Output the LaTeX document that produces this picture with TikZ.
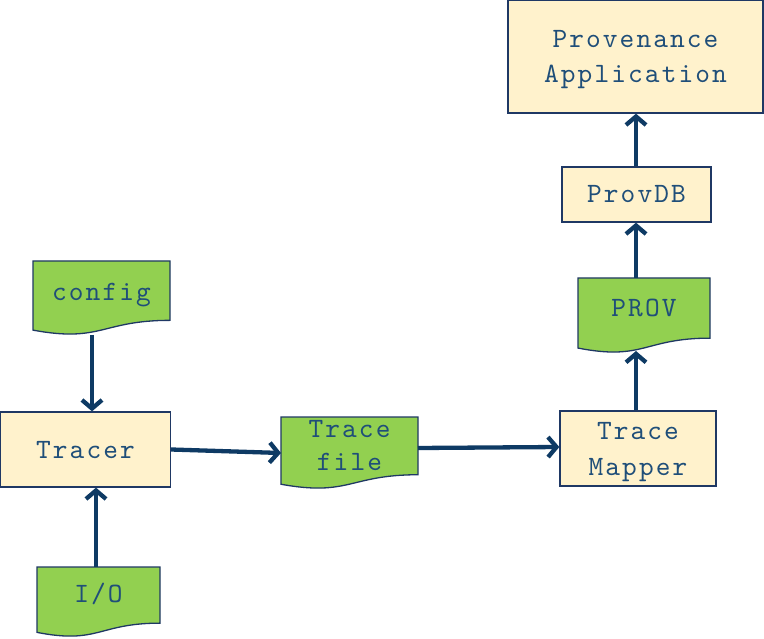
\documentclass[tikz,border=0pt]{standalone}
\usepackage{fontspec}
\setmonofont{lmmono10-regular.otf}[LetterSpace=7.5]
\usetikzlibrary{arrows.meta,calc}
\definecolor{cream}{HTML}{FFF2CC}
\definecolor{leaf}{HTML}{92D050}
\definecolor{edgec}{HTML}{1F3864}
\definecolor{ink}{HTML}{1F4E79}
\definecolor{arrowc}{HTML}{0E3A64}
\tikzset{
  lbl/.style={inner sep=0pt, text=ink, align=center, font=\fontsize{28}{34}\selectfont\ttfamily},
  oneline/.style={text height=17pt, text depth=0pt},
  procbox/.style={lbl, draw=edgec, line width=1.3pt, fill=cream},
  docframe/.style={inner sep=0pt, outer sep=0pt},
  docshape/.style={draw=edgec, line width=1.3pt, fill=leaf},
  arr/.style={draw=arrowc, line width=4.3pt, -{Straight Barb[length=8.5pt,width=20pt]}}
}
\newcommand\docpath[1]{%
  \path[docshape] let \p1=(#1.north west), \p2=(#1.south east) in
    (\p1) -- (\x2,\y1) -- (\x2,{\y1+0.802*(\y2-\y1)})
    .. controls ({0.5*(\x1+\x2)},{\y1+0.802*(\y2-\y1)}) and ({0.5*(\x1+\x2)},{\y1+1.107*(\y2-\y1)})
    .. (\x1,{\y1+0.934*(\y2-\y1)}) -- cycle;}
\begin{document}
\begin{tikzpicture}[x=1pt,y=-1pt]
\useasboundingbox (0,0) rectangle (764,639);
% process boxes
\node[procbox, text depth=0pt, minimum width=255pt, minimum height=113pt, font=\fontsize{28}{35}\selectfont\ttfamily] (app) at (635.5,56.5) {Provenance\\Application};
\node[procbox, oneline, minimum width=149pt, minimum height=55pt] (provdb) at (636.5,194.5) {ProvDB};
\node[procbox, text depth=0pt, minimum width=156pt, minimum height=75pt, font=\fontsize{28}{36}\selectfont\ttfamily] (mapper) at (638,448.5) {Trace\\Mapper};
\node[procbox, oneline, minimum width=170pt, minimum height=75pt] (tracer) at (85.5,449.5) {Tracer};
% documents
\node[docframe, minimum width=132pt, minimum height=75pt] (prov) at (644,315.5) {};
\docpath{prov}
\node[lbl, oneline] (provt) at (644,308.5) {PROV};
\node[docframe, minimum width=137pt, minimum height=74pt] (config) at (101.5,298) {};
\docpath{config}
\node[lbl, oneline] (configt) at (101.5,292) {config};
\node[docframe, minimum width=123pt, minimum height=70pt] (io) at (98.5,602) {};
\docpath{io}
\node[lbl, oneline] (iot) at (98.5,594) {I/O};
\node[docframe, minimum width=137pt, minimum height=72pt] (tracefile) at (349.5,453) {};
\docpath{tracefile}
\node[lbl, font=\fontsize{28}{33}\selectfont\ttfamily] (tracefilet) at (349.5,446) {Trace\\file};
% connectors
\draw[arr] ([xshift=-9.5pt]config.south) -- ([xshift=6.5pt]tracer.north);
\draw[arr] ([xshift=-2.5pt]io.north) -- ([xshift=10.5pt]tracer.south);
\draw[arr] (tracer.east) -- (tracefile.west);
\draw[arr] ([yshift=5pt]tracefile.east) -- ([yshift=1.5pt]mapper.west);
\draw[arr] ([xshift=-2pt]mapper.north) -- ([xshift=-8pt, yshift=2pt]prov.south);
\draw[arr] ([xshift=-8pt]prov.north) -- ([xshift=-0.5pt]provdb.south);
\draw[arr] ([xshift=-0.5pt]provdb.north) -- ([xshift=0.5pt]app.south);
\end{tikzpicture}
\end{document}
